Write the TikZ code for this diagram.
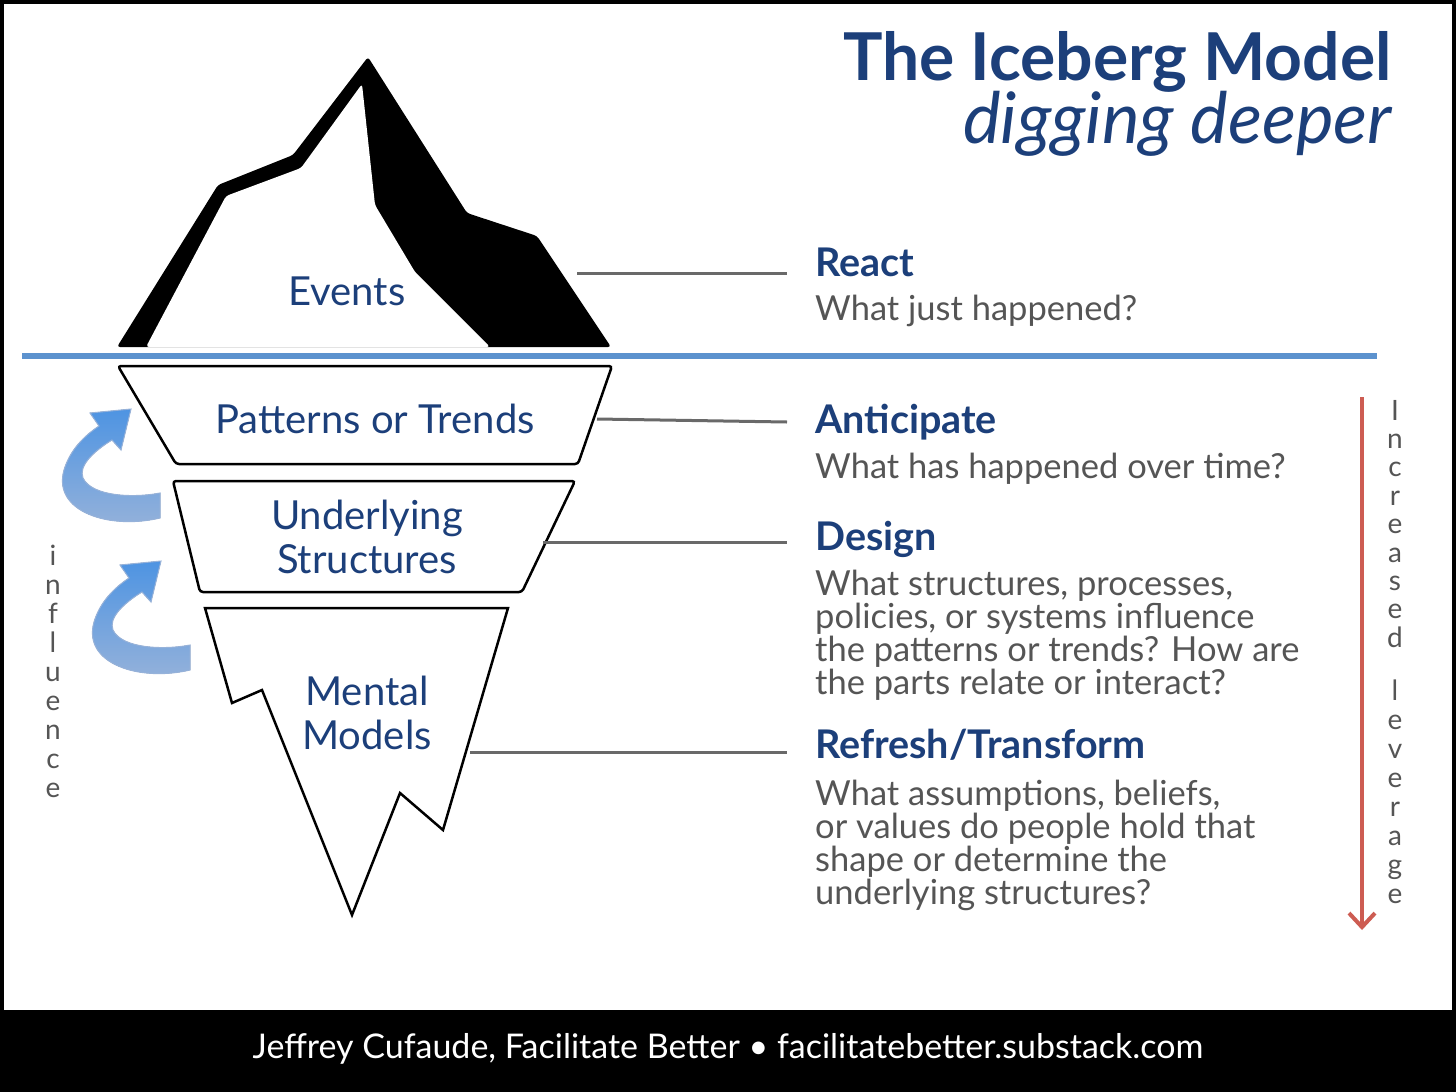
\documentclass[tikz,border=0pt]{standalone}
\usepackage{fontspec}
\setmainfont{Lato}
\usetikzlibrary{positioning,arrows.meta}

\definecolor{navy}{RGB}{28,63,122}
\definecolor{bodygray}{RGB}{85,85,85}
\definecolor{waterline}{RGB}{92,146,206}
\definecolor{leadgray}{RGB}{105,105,105}
\definecolor{levred}{RGB}{205,92,82}
\definecolor{arrowtop}{RGB}{78,148,226}
\definecolor{arrowbot}{RGB}{150,178,218}

\tikzset{
  layer/.style={draw=black, line width=2.5, fill=white, rounded corners=3},
  layertext/.style={text=navy, font=\fontsize{40}{44}\selectfont, align=center},
  head/.style={text=navy, font=\bfseries\fontsize{39.5}{40}\selectfont, inner sep=0},
  body/.style={text=bodygray, font=\fontsize{34.5}{33}\selectfont, align=left, inner sep=0},
  leader/.style={draw=leadgray, line width=3},
  vlet/.style={text=bodygray, font=\fontsize{28}{28}\selectfont, anchor=base, inner sep=0},
  bendarrow/.style={top color=arrowtop, bottom color=arrowbot, draw=arrowbot, line width=1},
}

\begin{document}
\begin{tikzpicture}[x=1pt, y=-1pt]
\useasboundingbox (0,0) rectangle (1456,1092);
\fill[white] (0,0) rectangle (1456,1092);
\draw[line width=8] (0,0) rectangle (1456,1092);
\fill[black] (0,1010) rectangle (1456,1092);

% title
\node[text=navy, font=\bfseries\fontsize{66}{70}\selectfont, anchor=base east, inner sep=0] (title) at (1392,80) {The Iceberg Model};
\node[text=navy, font=\itshape\fontsize{71}{72}\selectfont, anchor=base east, inner sep=0] (subtitle) at (1392,143) {digging deeper};

% tip above the water
\fill[black, rounded corners=3] (117,347) -- (218,185) -- (293,155) -- (368,57) -- (467,213) -- (537,236) -- (611,347) -- cycle;
\fill[white, rounded corners=3] (146,347) -- (226,196) -- (301,168) -- (362,84) -- (375,205) -- (415,272) -- (490,347) -- cycle;
\node[layertext] (events) at (347,291) {Events};

% water line
\draw[waterline, line width=6] (22,356) -- (1377,356);

% layers below the water
\draw[layer] (118,366) -- (612,366) -- (578,464) -- (176,464) -- cycle;
\node[layertext] (patterns) at (375,419) {Patterns or Trends};
\draw[layer] (173,481) -- (575,481) -- (522,592) -- (200,592) -- cycle;
\node[layertext] (structures) at (367,537) {Underlying\\Structures};
\draw[draw=black, line width=2.5, fill=white] (205,608) -- (508,608) -- (443,830) -- (400,793) -- (352,915) -- (262,690) -- (232,703) -- cycle;
\node[layertext] (models) at (367,713) {Mental\\Models};

% influence arrows
\foreach \dx/\dy in {0/0, 30/152}
  \fill[bendarrow, shift={(\dx,\dy)}] (160,518) .. controls (110,530) and (52,512) .. (64,470)
    .. controls (70,450) and (84,436) .. (99,426) -- (90,413) -- (131,409) -- (121,450) -- (112,440)
    .. controls (94,451) and (78,466) .. (83,478) .. controls (92,497) and (135,498) .. (160,493) -- cycle;
\foreach \c [count=\i] in {i,n,f,l,u,e,n,c,e}
  \node[vlet] (infl\i) at (53,537+28.9*\i) {\c};

% leaders
\coordinate (eventsR) at (577,273);
\coordinate (patternsR) at (597,419);
\coordinate (structuresR) at (543,542);
\coordinate (modelsR) at (470,752);
\coordinate (reactL) at (787,273);
\coordinate (anticipateL) at (787,422);
\coordinate (designL) at (787,542);
\coordinate (refreshL) at (787,752);
\draw[leader] (eventsR) -- (reactL);
\draw[leader] (patternsR) -- (anticipateL);
\draw[leader] (structuresR) -- (designL);
\draw[leader] (modelsR) -- (refreshL);

% right column
\node[head, anchor=base west] (react) at (815,276) {React};
\node[body, anchor=base west] (reactq) at (815,320) {What just happened?};
\node[head, anchor=base west] (anticipate) at (815,433) {Anticipate};
\node[body, anchor=base west] (anticipateq) at (815,478) {What has happened over time?};
\node[head, anchor=base west] (design) at (815,550) {Design};
\node[body, below=13pt of design.south west, anchor=north west] (designq) {What structures, processes,\\policies, or systems influence\\the patterns or trends? How are\\the parts relate or interact?};
\node[head, anchor=base west] (refresh) at (815,758) {Refresh/Transform};
\node[body, below=20pt of refresh.south west, anchor=north west] (refreshq) {What assumptions, beliefs,\\or values do people hold that\\shape or determine the\\underlying structures?};

% leverage arrow
\coordinate (levtop) at (1362,397);
\coordinate (levbot) at (1362,930);
\draw[levred, line width=4, -{Straight Barb[length=14,width=26,line width=4]}] (levtop) -- (levbot);
\foreach \c [count=\i] in {I,n,c,r,e,a,s,e,d}
  \node[vlet] (inc\i) at (1395,391.6+28.4*\i) {\c};
\foreach \c [count=\i] in {l,e,v,e,r,a,g,e}
  \node[vlet] (lev\i) at (1395,671+29*\i) {\c};

% footer
\node[text=white, font=\fontsize{34}{34}\selectfont] (footer) at (728,1049) {Jeffrey Cufaude, Facilitate Better \textbullet{} facilitatebetter.substack.com};
\end{tikzpicture}
\end{document}
